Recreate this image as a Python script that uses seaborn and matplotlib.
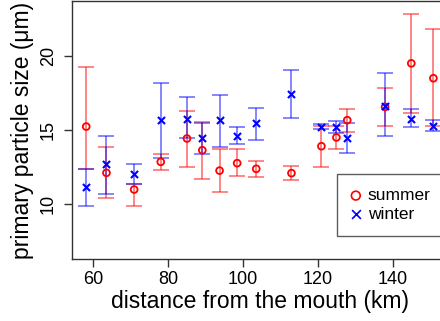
import numpy as np
import pandas as pd
import matplotlib
matplotlib.use("Agg")
import matplotlib.pyplot as plt
import seaborn as sns

# ── data ─────────────────────────────────────────────────────────────
distance = [58.1, 63.5, 70.9, 78.0, 85.0, 89.1, 93.7, 98.4,
            103.5, 112.9, 120.9, 124.9, 127.8, 137.9, 144.9, 150.8]

summer_mean = [15.23, 12.12, 11.00, 12.86, 14.43, 13.64, 12.27, 12.77,
               12.39, 12.10, 13.91, 14.50, 15.66, 16.55, 19.48, 18.48]
summer_low  = [12.35, 10.42, 9.89, 12.32, 12.52, 11.72, 10.80, 11.88,
               11.85, 11.63, 12.50, 13.73, 14.87, 15.26, 16.15, 15.25]
summer_high = [19.26, 13.83, 11.36, 13.36, 16.31, 15.55, 13.75, 13.69,
               12.95, 12.57, 15.25, 15.25, 16.40, 17.83, 22.79, 21.77]

winter_mean = [11.16, 12.70, 12.05, 15.66, 15.77, 14.45, 15.66, 14.60,
               15.44, 17.42, 15.23, 15.19, 14.47, 16.64, 15.77, 15.30]
winter_low  = [9.91, 10.71, 11.36, 13.15, 14.43, 13.42, 13.89, 14.03,
               14.36, 15.81, 15.07, 14.79, 13.44, 14.63, 15.17, 14.94]
winter_high = [12.35, 14.63, 12.72, 18.14, 17.22, 15.44, 17.38, 15.19,
               16.46, 19.06, 15.37, 15.59, 15.48, 18.86, 16.42, 15.64]

x_ticks = [60, 80, 100, 120, 140]
y_ticks = [10, 15, 20]

# ── style ────────────────────────────────────────────────────────────
sns.set_theme(style='ticks')
plt.rcParams['font.family'] = ['Liberation Sans', 'DejaVu Sans']
plt.rcParams['text.color'] = 'black'
plt.rcParams['xtick.color'] = 'black'
plt.rcParams['ytick.color'] = 'black'
plt.rcParams['axes.labelcolor'] = 'black'

RED = '#FF0000'
BLUE = '#0000FF'

df = pd.DataFrame({
    'distance': distance * 2,
    'size': summer_mean + winter_mean,
    'season': ['summer'] * len(distance) + ['winter'] * len(distance),
})

fig = plt.figure(figsize=(4.4, 3.21), dpi=100)
ax = fig.add_axes([72 / 440, 1 - 259 / 321, 376 / 440, 258 / 321])

# error bars
for mean, lo, hi, col in [(summer_mean, summer_low, summer_high, RED),
                          (winter_mean, winter_low, winter_high, BLUE)]:
    mean = np.array(mean)
    err = [mean - np.array(lo), np.array(hi) - mean]
    ax.errorbar(distance, mean, yerr=err, fmt='none', ecolor=col,
                elinewidth=1.1, capsize=5.5, capthick=1.1, alpha=0.6, zorder=2)

# markers: open circles (summer) and crosses (winter)
sns.scatterplot(data=df[df.season == 'summer'], x='distance', y='size',
                marker='o', s=24, facecolors='none', edgecolor=RED,
                linewidth=1.3, ax=ax, zorder=3, legend=False)
sns.scatterplot(data=df[df.season == 'winter'], x='distance', y='size',
                marker='x', s=26, color=BLUE, linewidth=1.5,
                ax=ax, zorder=3, legend=False)

ax.set_xlim(54.3, 154.7)
ax.set_ylim(6.33, 23.67)
ax.set_xticks(x_ticks)
ax.set_yticks(y_ticks)
ax.tick_params(axis='both', direction='out', length=6, width=1, color='#333333',
               labelsize=13)
ax.tick_params(axis='x', pad=3)
ax.tick_params(axis='y', pad=5)
plt.setp(ax.get_yticklabels(), rotation=90, va='center')
for sp in ['left', 'bottom', 'top']:
    ax.spines[sp].set_color('#333333')
    ax.spines[sp].set_linewidth(1)
ax.spines['right'].set_visible(False)

ax.set_xlabel('distance from the mouth (km)', fontsize=16.5, labelpad=1)
ax.set_ylabel('primary particle size (μm)', fontsize=16.5, labelpad=4)

# legend
h1 = ax.scatter([], [], s=40, facecolors='none', edgecolors=RED, linewidths=1.2)
h2 = ax.scatter([], [], s=40, marker='x', color=BLUE, linewidths=1.2)
leg = ax.legend([h1, h2], ['summer', 'winter'], loc='upper left',
                bbox_to_anchor=(0.704, 0.329), borderaxespad=0, fontsize=12.5,
                frameon=True, fancybox=False, edgecolor='#333333', borderpad=0.8,
                handletextpad=0.4, labelspacing=0.2, handlelength=0.6)
leg.get_frame().set_linewidth(1)

fig.savefig('out.png', dpi=100)
